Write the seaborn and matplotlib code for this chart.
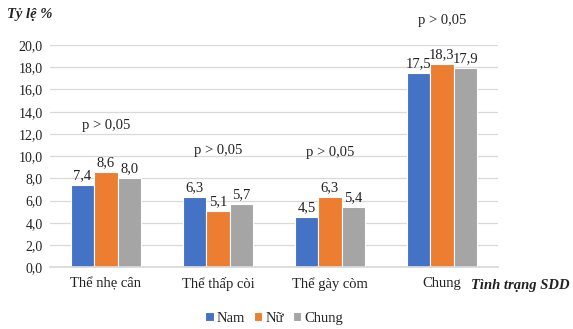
import matplotlib
matplotlib.use("Agg")
import matplotlib.pyplot as plt
import seaborn as sns
import pandas as pd
from matplotlib.ticker import FuncFormatter

categories = ["Thể nhẹ cân", "Thể thấp còi", "Thể gày còm", "Chung"]
series = ["Nam", "Nữ", "Chung"]
nam = [7.4, 6.3, 4.5, 17.5]
nu = [8.6, 5.1, 6.3, 18.3]
chung = [8.0, 5.7, 5.4, 17.9]
p_labels = ["p > 0,05", "p > 0,05", "p > 0,05", "p > 0,05"]
p_y = [12.8, 10.5, 10.3, 22.2]
colors = ["#4472C4", "#ED7D31", "#A5A5A5"]

rows = []
for s, vals in zip(series, [nam, nu, chung]):
    for c, v in zip(categories, vals):
        rows.append({"cat": c, "series": s, "val": v})
df = pd.DataFrame(rows)

sns.set_theme(style="white")
plt.rcParams["font.family"] = ["Liberation Serif", "DejaVu Serif"]

fig = plt.figure(figsize=(5.73, 3.29), dpi=100)
ax = fig.add_axes([0.087, 0.188, 0.782, 0.675])

sns.barplot(data=df, x="cat", y="val", hue="series", palette=colors,
            order=categories, hue_order=series, width=0.63, saturation=1,
            edgecolor="white", linewidth=0.8, ax=ax, legend=True)

ax.set_ylim(0, 20)
ax.set_yticks([i * 2 for i in range(11)])
ax.yaxis.set_major_formatter(FuncFormatter(lambda v, p: f"{v:.1f}".replace(".", ",")))
ax.grid(axis="y", color="#D9D9D9", linewidth=0.9)
ax.set_axisbelow(True)
for s in ["top", "right", "left"]:
    ax.spines[s].set_visible(False)
ax.spines["bottom"].set_color("#D9D9D9")
ax.tick_params(axis="y", length=0, labelsize=10, colors="#222222", pad=5)
ax.tick_params(axis="x", length=0, labelsize=10.5, colors="#222222", pad=7)
ax.set_xlabel("")
ax.set_ylabel("")

for cont in ax.containers:
    ax.bar_label(cont, labels=[f"{b.get_height():.1f}".replace(".", ",") for b in cont],
                 padding=2, fontsize=10.5, color="#222222")

for i, (t, y) in enumerate(zip(p_labels, p_y)):
    ax.text(i, y, t, ha="center", va="center", fontsize=10.5, color="#222222", clip_on=False)

fig.text(0.012, 0.955, "Tỷ lệ %", fontsize=10.5, fontweight="bold", fontstyle="italic",
         ha="left", va="center", color="#222222")
fig.text(0.822, 0.133, "Tình trạng SDD", fontsize=10.5, fontweight="bold", fontstyle="italic",
         ha="left", va="center", color="#222222")

leg = ax.legend(loc="center", bbox_to_anchor=(0.5, -0.23), bbox_transform=ax.transAxes,
                ncol=3, frameon=False, fontsize=10.5, handlelength=0.6, handleheight=0.6,
                handletextpad=0.2, columnspacing=0.6)

fig.savefig("out.png", dpi=100)
